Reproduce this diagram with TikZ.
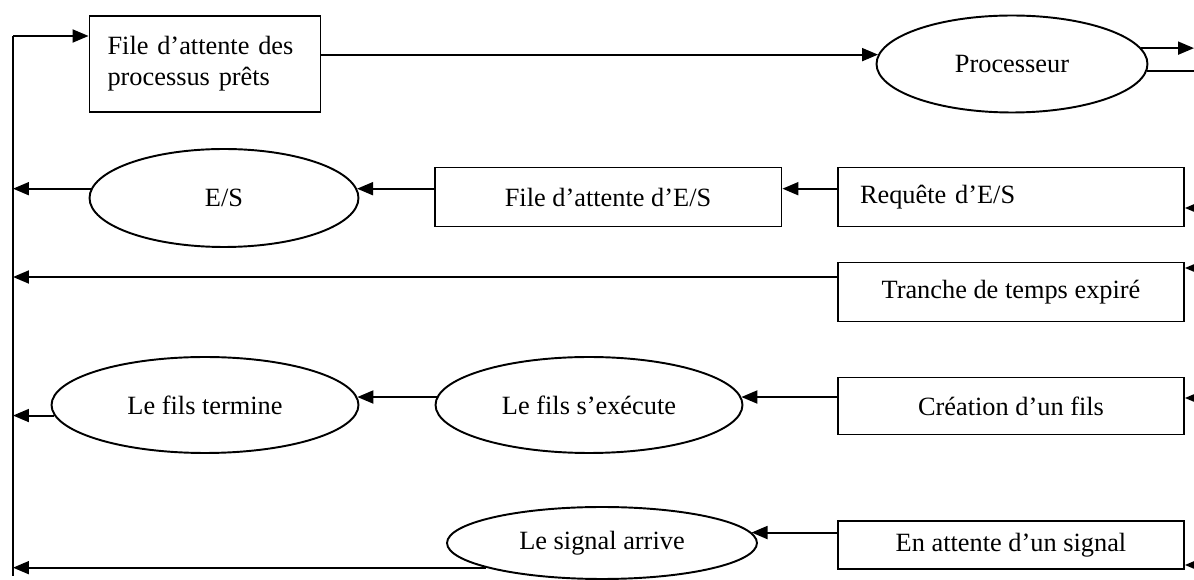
\documentclass[tikz,border=0pt]{standalone}
\usepackage{fontspec}
\setmainfont{Liberation Serif}
\usetikzlibrary{arrows.meta,positioning,shapes.geometric,calc}
\tikzset{
  qbox/.style={draw,line width=1.1pt,rectangle,inner sep=0pt,minimum width=6.92cm,
               minimum height=1.18cm,align=center},
  evt/.style={draw,line width=1.1pt,ellipse,inner sep=0pt,minimum width=6.14cm,
              minimum height=1.92cm},
  flow/.style={-{Triangle[length=3.2mm,width=2.6mm]},line width=1.1pt},
  link/.style={line width=1.1pt},
}

\begin{document}
\begin{tikzpicture}[x=0.02cm,y=-0.02cm,font=\fontsize{15}{17.6}\selectfont]
    \useasboundingbox (0,0) rectangle (1194,580);
    % left return line and right edge
    \coordinate (bus) at (13,0);
    \coordinate (redge) at (1194,0);
    % ready queue and processor
    \node[qbox,minimum width=4.62cm,minimum height=1.92cm,text width=3.9cm,align=left]
         (pretes) at (205,64) {File d’attente des\\processus prêts};
    \node[evt,minimum width=5.42cm,minimum height=1.94cm] (proc) at (1012,64) {Processeur};
    \draw[flow] (proc.176 -| pretes.east) -- (proc.176);
    \draw[flow] (proc.7) -- (proc.7 -| redge);
    \draw[link] (proc.-3) -- (proc.-3 -| redge);
    % I/O request
    \node[evt,minimum width=5.38cm,minimum height=1.96cm] (es) at (224,198) {E/S};
    \node[qbox,minimum width=6.94cm] (attES) at (608,197) {File d’attente d’E/S};
    \node[qbox,text width=6.04cm,inner xsep=0.44cm,align=left] (req) at (1011,197) {Requête d’E/S};
    \draw[flow] (es.4 -| req.west) -- (es.4 -| attES.east);
    \draw[flow] (es.4 -| attES.west) -- (es.4);
    \draw[flow] (es.176) -- (es.176 -| bus);
    \coordinate (reqin) at ([yshift=-0.22cm]req.east);
    \draw[flow] (reqin -| redge) -- (reqin);
    % time slice expired
    \node[qbox] (tranche) at (1011,292) {Tranche de temps expiré};
    \coordinate (trout) at ([yshift=0.3cm]tranche.west);
    \coordinate (trin) at ([yshift=0.48cm]tranche.east);
    \draw[flow] (trout) -- (trout -| bus);
    \draw[flow] (trin -| redge) -- (trin);
    % child creation
    \node[evt] (termine) at (205,405) {Le fils termine};
    \node[evt] (execute) at (589,405) {Le fils s’exécute};
    \node[qbox,minimum height=1.14cm] (creation) at (1011,406) {Création d’un fils};
    \draw[flow] (execute.3 -| creation.west) -- (execute.3);
    \draw[flow] (execute.177) -- (termine.3);
    \draw[flow] (termine.184) -- (termine.184 -| bus);
    \coordinate (crin) at ([yshift=0.16cm]creation.east);
    \draw[flow] (crin -| redge) -- (crin);
    % waiting for a signal
    \node[evt,minimum width=6.2cm,minimum height=1.44cm] (signal) at (602,543) {Le signal arrive};
    \node[qbox,minimum height=0.96cm] (sigbox) at (1011,545) {En attente d’un signal};
    \draw[flow] (signal.4 -| sigbox.west) -- (signal.4);
    \draw[flow] (signal.192) -- (signal.192 -| bus);
    \coordinate (sgin) at ([yshift=-0.4cm]sigbox.east);
    \draw[flow] (sgin -| redge) -- (sgin);
    % return line up to the ready queue
    \coordinate (bustop) at (13,36);
    \coordinate (busbot) at (13,576);
    \draw[link] (busbot) -- (bustop);
    \draw[flow] (bustop) -- (bustop -| pretes.west);
\end{tikzpicture}
\end{document}
